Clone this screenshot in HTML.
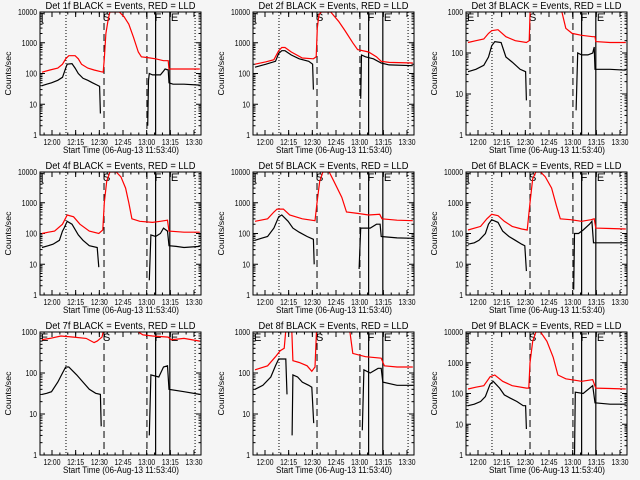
<!DOCTYPE html>
<html><head><meta charset="utf-8"><style>
html,body{margin:0;padding:0;background:#f5f5f5;}
svg{display:block;font-family:"Liberation Sans",sans-serif;}
</style></head><body>
<svg id="s" width="640" height="480" viewBox="0 0 640 480"></svg>
<script>
// Per-panel data: [time minutes since 11:53:40, counts/sec]; null = gap
const detNames = ["1f","2f","3f","4f","5f","6f","7f","8f","9f"];
const yMaxDecades = [4,4,3,4,4,4,3,3,4];
const xTickLabels = ["12:00","12:15","12:30","12:45","13:00","13:15","13:30"];
const xTickTimes = [6.33,21.33,36.33,51.33,66.33,81.33,96.33];
const yTickLabels = ["1","10","100","1000","10000"];
const markerTimes = [15.2,39.3,66.5,72,81,97];
const markerStyles = ["dot","dash","dash","solid","solid","dot"];

const black1=[[0,40],[3,45],[6,50],[10,60],[13,75],[15,150],[16,200],[19,210],[21,150],[23,100],[26,70],[29,60],[32,50],[35,42],[36.5,38],[37,5],null,[67,2],[67.5,60],[68,100],[70,90],[75,90],[77,120],[78,140],[80,130],[80.5,50],[83,45],[90,45],[100,42]];
const red1=[[0,110],[5,130],[10,150],[13,200],[15,300],[17,380],[21,380],[23,300],[25,200],[29,150],[33,130],[37,115],[38.8,110],[39.5,300],[40.5,2000],[42,6000],[43,10000],[49,10000],[52,7000],[55,4000],[58,1500],[61,500],[63,350],[67,330],[72,300],[77,260],[80,260],[80.5,140],[85,140],[100,140]];
const black2=[[0,160],[7,200],[13,250],[15,450],[17,550],[19,550],[23,400],[28,300],[34,250],[36.5,200],[37,30],null,[67,15],[67.5,400],[70,350],[75,300],[80,220],[85,190],[100,180]];
const red2=[[0,200],[7,240],[12,280],[15,550],[17,700],[19,700],[23,500],[30,320],[37,300],[38.8,350],[39.5,3000],[40.5,8000],[42,10000],[48,10000],[53,5000],[57,2500],[62,1000],[65,600],[72,500],[77,350],[80,250],[85,230],[100,220]];
const black3=[[0,35],[5,40],[10,50],[13,80],[15,150],[17,190],[21,180],[24,80],[28,60],[33,40],[36.5,35],[37,7],null,[68.5,4],[69.5,100],[72,90],[76,90],[79,100],[80,140],[80.5,40],[90,40],[100,38]];
const red3=[[0,180],[5,200],[10,220],[13,300],[15,350],[19,370],[24,250],[30,200],[37,180],[38.8,200],[39.5,1500],[58,1500],[59.5,1000],[62,400],[66,300],[72,270],[79,250],[80.5,250],[81,190],[90,180],[100,180]];
const black4=[[0,35],[4,40],[7,45],[11,60],[13,120],[14,150],[16,250],[19,200],[23,90],[26,60],[30,40],[35,35],[36,8],null,[68,3],[69,90],[72,80],[75,100],[77,150],[79.5,120],[80.5,40],[85,38],[90,35],[100,38]];
const red4=[[0,100],[4,110],[8,120],[13,200],[16,400],[20,350],[24,200],[30,120],[36,100],[38.5,130],[39.5,1000],[41,5000],[43,10000],[47,10000],[50,7000],[53,3000],[55,1000],[57,300],[62,250],[70,230],[75,250],[79.5,270],[80.5,120],[90,110],[100,110]];
const black5=[[0,60],[4,70],[8,80],[12,150],[15,350],[17,400],[21,250],[24,150],[28,110],[33,80],[37,65],[37.5,10],null,[66,7],[67,150],[73,150],[77,200],[79.3,200],[80,80],[90,72],[100,70]];
const red5=[[0,250],[8,300],[12,500],[14,620],[18,620],[22,400],[30,300],[38,260],[39.3,1000],[41,5000],[43,10000],[47,10000],[50,5000],[55,1500],[58,500],[65,450],[72,400],[79,420],[80.5,300],[90,270],[100,260]];
const black6=[[0,45],[4,50],[7,60],[11,100],[13,200],[15,280],[19,230],[22,120],[26,80],[30,60],[34,45],[36,40],[37,6],null,[67,1.5],[67.5,100],[70,100],[73,130],[77,200],[78.5,250],[79.5,50],[90,50],[100,50]];
const red6=[[0,130],[8,170],[12,300],[15,420],[19,380],[23,250],[28,170],[34,140],[37.5,130],[39.3,1000],[41,6000],[43,10000],[46,10000],[49,7000],[53,3000],[56,800],[58.5,300],[65,280],[72,250],[78,280],[80,300],[81,150],[90,145],[100,140]];
const black7=[[0,30],[3,32],[6,35],[10,60],[13,100],[15,140],[17,140],[22,90],[26,60],[30,40],[34,32],[37,30],[37.5,5],null,[68,3],[69,90],[74,80],[77,140],[79.5,150],[80.5,40],[90,35],[100,30]];
const red7=[[0,650],[5,700],[12,800],[20,750],[28,700],[33,550],[35,600],[38,750],[39,1100],[60,1100],[61,1000],[64,850],[70,800],[80,750],[82,650],[90,700],[100,600]];
const black8=[[0,40],[5,50],[10,80],[13,150],[15,220],[19.5,220],[20.3,30],null,[23.5,3],[24,90],[27,80],[30,60],[34,50],[36,45],[37.2,6],null,[68,4],[69,120],[73,100],[78,130],[80,130],[81,60],[90,50],[100,50]];
const red8=[[0,120],[8,150],[13,250],[16,350],[18.5,400],[19.5,1100],[23.3,1100],[24,200],[28,180],[33,150],[36,110],[38,140],[39,1100],[60,1100],[62,300],[70,250],[80,230],[82,150],[90,140],[100,140]];
const black9=[[0,40],[4,45],[8,55],[11,80],[14,200],[16,250],[20,150],[23,90],[27,70],[31,55],[35,40],[36.5,40],[37,7],null,[67.5,0.9],[68,110],[73,100],[79,180],[80.5,50],[90,45],[100,45]];
const red9=[[0,140],[5,160],[10,180],[14,350],[17,400],[22,250],[28,180],[37,150],[38.5,150],[39.3,1000],[41,5000],[43,10000],[46,10000],[50,5000],[54,1500],[57,400],[62,300],[72,250],[79,280],[81,150],[90,145],[100,140]];
const blackSeries=[black1,black2,black3,black4,black5,black6,black7,black8,black9];
const redSeries=[red1,red2,red3,red4,red5,red6,red7,red8,red9];

const NS="http://www.w3.org/2000/svg";
const svg=document.getElementById("s");
function mk(tag,attrs,parent){const e=document.createElementNS(NS,tag);for(const k in attrs)e.setAttribute(k,attrs[k]);(parent||svg).appendChild(e);return e;}

for(let i=0;i<9;i++){
  const col=i%3,row=Math.floor(i/3);
  const ox=col*213, oy=row*160;
  const L=ox+40,R=ox+201,T=oy+12,B=oy+135;
  const dec=yMaxDecades[i];
  const xs=t=>ox+42+1.578*t;
  const ys=v=>B-(Math.log10(v)/dec)*(B-T);
  const g=mk("g",{});
  
  
  const cp=mk("clipPath",{id:"c"+i},g);
  mk("rect",{x:L,y:T,width:R-L,height:B-T},cp);
  const tt=mk("text",{x:(L+R)/2-75,y:oy+9,"font-size":"10",textLength:"150",lengthAdjust:"spacingAndGlyphs"},g);
  tt.textContent="Det "+detNames[i]+" BLACK = Events, RED = LLD";
  
  
  const yt=mk("text",{x:-22,y:0,"font-size":"8.5",textLength:"44",lengthAdjust:"spacingAndGlyphs",transform:`translate(${ox+11},${(T+B)/2}) rotate(-90)`},g);
  yt.textContent="Counts/sec";
  
  
  const xt=mk("text",{x:ox+63,y:oy+153,"font-size":"9",textLength:"116",lengthAdjust:"spacingAndGlyphs"},g);
  xt.textContent="Start Time (06-Aug-13 11:53:40)";
  
  
  for(let d=0;d<=dec;d++){
    const y=ys(Math.pow(10,d));
    mk("line",{x1:L,x2:L+5,y1:y,y2:y,stroke:"#000"},g);
    mk("line",{x1:R,x2:R-5,y1:y,y2:y,stroke:"#000"},g);
    const lab=yTickLabels[d];
    const w=lab.length*3.8;
    const lb=mk("text",{x:L-3-w,y:y+3,"font-size":"8.5",textLength:w,lengthAdjust:"spacingAndGlyphs"},g);
    lb.textContent=lab;
    
    
    if(d<dec)for(let m=2;m<10;m++){const ym=ys(m*Math.pow(10,d));
      mk("line",{x1:L,x2:L+2.5,y1:ym,y2:ym,stroke:"#000"},g);
      mk("line",{x1:R,x2:R-2.5,y1:ym,y2:ym,stroke:"#000"},g);}
  }
  for(let k=0;k<xTickTimes.length;k++){
    const x=xs(xTickTimes[k]);
    mk("line",{x1:x,x2:x,y1:B,y2:B-5,stroke:"#000"},g);
    mk("line",{x1:x,x2:x,y1:T,y2:T+5,stroke:"#000"},g);
    const lb=mk("text",{x:x-8.5,y:B+10,"font-size":"8.5",textLength:"17",lengthAdjust:"spacingAndGlyphs"},g);
    lb.textContent=xTickLabels[k];
    
    
  }
  for(let t=1.33;t<100;t+=5){const x=xs(t);if(x<L||x>R)continue;
    mk("line",{x1:x,x2:x,y1:B,y2:B-2.5,stroke:"#000"},g);
    mk("line",{x1:x,x2:x,y1:T,y2:T+2.5,stroke:"#000"},g);}
  for(let k=0;k<markerTimes.length;k++){
    const x=xs(markerTimes[k]);const st=markerStyles[k];
    const ln=mk("line",{x1:x,x2:x,y1:T,y2:B,stroke:"#000","stroke-width":st==="solid"?1.2:1,"stroke-dasharray":st==="dot"?"1,2":(st==="dash"?"7,4":"none")},g);
    
    
  }
  const lets=[["E",L+1],["S",xs(39.3)-1],["F",xs(72)-1],["E",xs(81)+1]];
  if(dec===4){lets[0][0]="[";}
  for(const [c,x] of lets){const e=mk("text",{x:x,y:T+9,"font-size":"11"},g);e.textContent=c;
    
    }
  function draw(data,color,name){
    let d="",pen=false;
    for(const p of data){ if(p===null){pen=false;continue;}
      const v=Math.max(p[1],0.5);
      d+=(pen?"L":"M")+xs(p[0]).toFixed(1)+","+ys(v).toFixed(1)+" ";pen=true;}
    const pa=mk("path",{d:d,fill:"none",stroke:color,"stroke-width":1.2,"clip-path":`url(#c${i})`},g);
    
    
  }
  draw(redSeries[i],"#ff0000","lld-red-series");
  draw(blackSeries[i],"#000000","events-black-series");
  const box=mk("rect",{x:L,y:T,width:R-L,height:B-T,fill:"none",stroke:"#000"},g);
  
  
}
</script>
</body></html>
